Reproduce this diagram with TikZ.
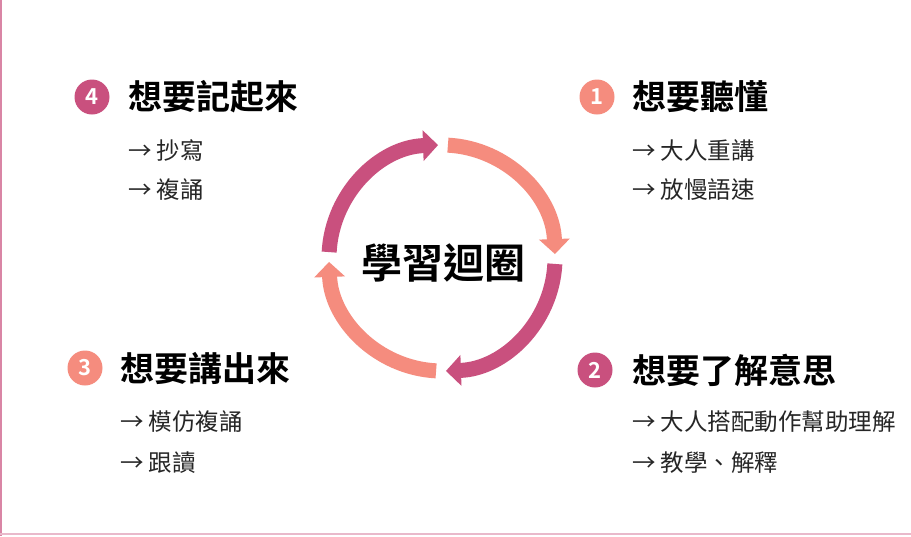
\documentclass[tikz,border=0pt]{standalone}
\usepackage{fontspec}
\setmainfont{Noto Sans CJK TC}
\newfontfamily\cjkb{Noto Sans CJK TC Bold}
\usetikzlibrary{arrows.meta}
\definecolor{dk}{HTML}{C9507E}
\definecolor{sl}{HTML}{F58C7E}
\tikzset{
  arcp/.style={line width=15pt,-{Triangle[width=30pt,length=15pt]}},
  num/.style={circle,minimum size=35pt,inner sep=0pt,text=white,font=\cjkb\fontsize{22}{22}\selectfont},
  ttl/.style={anchor=west,inner sep=0pt,font=\cjkb\fontsize{34}{34}\selectfont},
  itm/.style={anchor=west,inner sep=0pt,font=\fontsize{23.5}{23.5}\selectfont,text=black!85},
  ctr/.style={inner sep=0pt,font=\cjkb\fontsize{41}{41}\selectfont}
}
\begin{document}
\begin{tikzpicture}[x=1pt,y=-1pt]
\useasboundingbox (0,0) rectangle (911,536);
\fill[white] (0,0) rectangle (911,536);
\draw[dk!70,line width=2pt] (1,0) -- (1,536);
\draw[dk!40,line width=1.5pt] (0,534) -- (911,534);
\coordinate (C) at (442,258);
\draw[arcp,dk] (C) ++(183:113) arc (183:268:113);
\draw[arcp,sl] (C) ++(273:113) arc (273:358:113);
\draw[arcp,dk] (C) ++(3:113) arc (3:88:113);
\draw[arcp,sl] (C) ++(93:113) arc (93:178:113);
\node[ctr] (c) at (443,263) {學習迴圈};
% 1
\node[num,fill=sl] (n1) at (597,97) {1};
\node[ttl] (t1) at (632,97) {想要聽懂};
\node[itm] (a1) at (632,150) {→ 大人重講};
\node[itm] (b1) at (632,190) {→ 放慢語速};
% 2
\node[num,fill=dk] (n2) at (595,370) {2};
\node[ttl] (t2) at (632,370) {想要了解意思};
\node[itm] (a2) at (632,422) {→ 大人搭配動作幫助理解};
\node[itm] (b2) at (632,463) {→ 教學、解釋};
% 3
\node[num,fill=sl] (n3) at (85,368) {3};
\node[ttl] (t3) at (120,368) {想要講出來};
\node[itm] (a3) at (120,422) {→ 模仿複誦};
\node[itm] (b3) at (120,463) {→ 跟讀};
% 4
\node[num,fill=dk] (n4) at (92,97) {4};
\node[ttl] (t4) at (128,97) {想要記起來};
\node[itm] (a4) at (128,150) {→ 抄寫};
\node[itm] (b4) at (128,190) {→ 複誦};
\end{tikzpicture}
\end{document}
